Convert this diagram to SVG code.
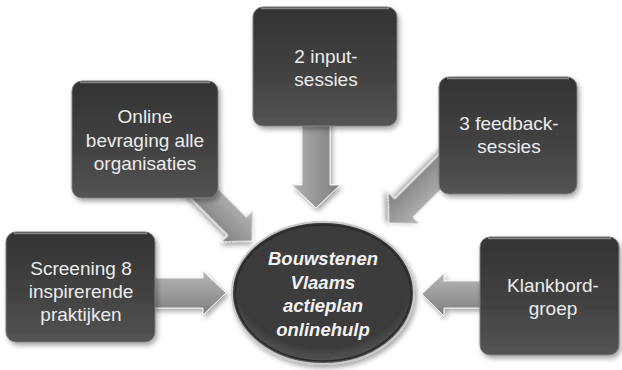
<svg xmlns="http://www.w3.org/2000/svg" width="622" height="370" viewBox="0 0 622 370">
<defs>
<linearGradient id="boxG" x1="0" y1="0" x2="0" y2="1">
<stop offset="0" stop-color="#333333"/>
<stop offset="0.6" stop-color="#434343"/>
<stop offset="1" stop-color="#545454"/>
</linearGradient>
<linearGradient id="arrG" x1="0" y1="0" x2="0" y2="1">
<stop offset="0" stop-color="#b8b8b8"/>
<stop offset="1" stop-color="#7e7e7e"/>
</linearGradient>
<linearGradient id="arrV" x1="0" y1="0" x2="1" y2="0">
<stop offset="0" stop-color="#b0b0b0"/>
<stop offset="1" stop-color="#7e7e7e"/>
</linearGradient>
<radialGradient id="ellG" cx="0.5" cy="0.4" r="0.6">
<stop offset="0" stop-color="#3e3e3e"/>
<stop offset="0.8" stop-color="#3a3a3a"/>
<stop offset="1" stop-color="#5a5a5a"/>
</radialGradient>
<filter id="sh" x="-10%" y="-10%" width="125%" height="125%">
<feDropShadow dx="2" dy="3" stdDeviation="2.5" flood-color="#000" flood-opacity="0.35"/>
</filter>
</defs>
<style>
.box{fill:url(#boxG);stroke:#7a7a7a;stroke-width:1;filter:url(#sh)}
.hl{fill:none;stroke:#9a9a9a;stroke-width:1.5;stroke-opacity:0.8}
.arr{fill:url(#arrG);stroke:#f2f2f2;stroke-width:1;filter:url(#sh)}
.arrv{fill:url(#arrV);stroke:#f2f2f2;stroke-width:1;filter:url(#sh)}
.t{font-family:"Liberation Sans",Arial,sans-serif;font-size:19px;fill:#ececec;text-anchor:middle}
.c{font-family:"Liberation Sans",Arial,sans-serif;font-size:18.5px;font-weight:bold;font-style:italic;fill:#f2f2f2;text-anchor:middle}
</style>
<rect width="622" height="370" fill="#ffffff"/>
<g id="connectors">
<path class="arr" d="M150,278 H203 V271 L226,293 L203,315 V308 H150 Z"/>
<path class="arr" d="M485,281 H444 V273 L422,294 L444,316 V308 H485 Z"/>
<path class="arrv" d="M302,120 V185 H292 L316,208 L340,185 H330 V120 Z"/>
<path class="arr" transform="translate(252,241) rotate(45)" d="M-87,-13 H-21 V-22 L0,0 L-21,22 V13 H-87 Z"/>
<path class="arr" transform="translate(389,223) rotate(135)" d="M-95,-13 H-21 V-22 L0,0 L-21,22 V13 H-95 Z"/>
</g>
<g id="node-screening">
<rect class="box" x="6" y="232" width="149" height="110" rx="10"/>
<path class="hl" d="M14,233.5 H147"/>
<text class="t" x="81" y="275">Screening 8</text>
<text class="t" x="81" y="298">inspirerende</text>
<text class="t" x="81" y="321">praktijken</text>
</g>
<g id="node-online">
<rect class="box" x="72" y="81" width="146" height="117" rx="10"/>
<path class="hl" d="M80,82.5 H210"/>
<text class="t" x="145" y="123">Online</text>
<text class="t" x="145" y="147">bevraging alle</text>
<text class="t" x="145" y="170">organisaties</text>
</g>
<g id="node-input">
<rect class="box" x="253" y="7" width="144" height="119" rx="10"/>
<path class="hl" d="M261,8.5 H389"/>
<text class="t" x="326" y="63">2 input-</text>
<text class="t" x="326" y="86">sessies</text>
</g>
<g id="node-feedback">
<rect class="box" x="439" y="77" width="138" height="117" rx="10"/>
<path class="hl" d="M447,78.5 H569"/>
<text class="t" x="509" y="130">3 feedback-</text>
<text class="t" x="509" y="153">sessies</text>
</g>
<g id="node-klankbord">
<rect class="box" x="480" y="237" width="139" height="118" rx="10"/>
<path class="hl" d="M488,238.5 H611"/>
<text class="t" x="553" y="292">Klankbord-</text>
<text class="t" x="553" y="315">groep</text>
</g>
<g id="node-center">
<ellipse cx="323" cy="293" rx="91" ry="71" fill="url(#ellG)" stroke="#c8c8c8" stroke-width="2" filter="url(#sh)"/>
<ellipse cx="323" cy="293" rx="88" ry="68" fill="none" stroke="#2a2a2a" stroke-width="1.5"/>
<text class="c" x="323" y="265">Bouwstenen</text>
<text class="c" x="323" y="289">Vlaams</text>
<text class="c" x="323" y="312">actieplan</text>
<text class="c" x="323" y="336">onlinehulp</text>
</g>
</svg>
